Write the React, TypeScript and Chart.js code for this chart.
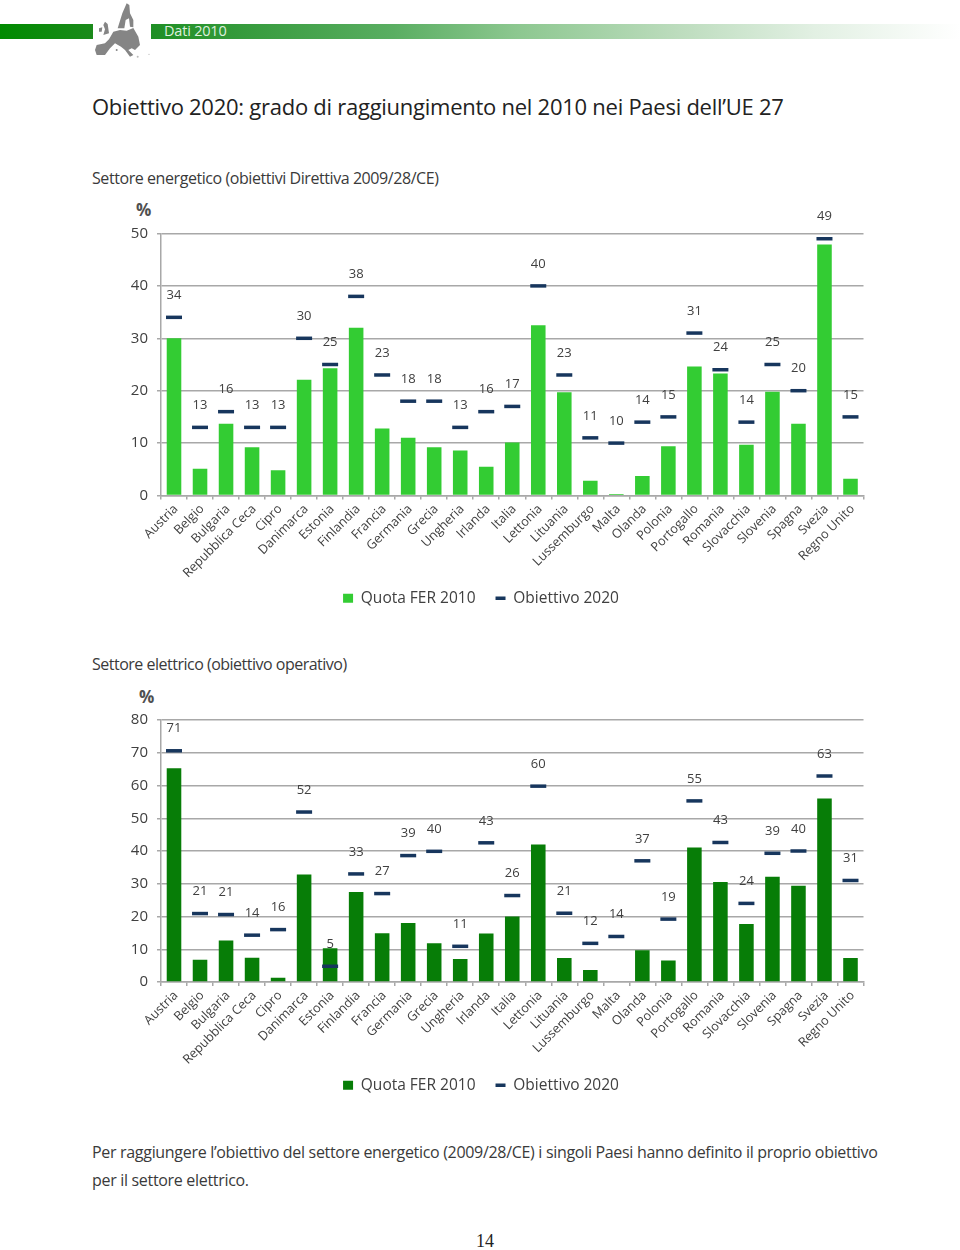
import React, { useEffect, useRef } from "react";
import { Chart, registerables } from "chart.js";

Chart.register(...registerables);

const countries = ["Austria", "Belgio", "Bulgaria", "Repubblica Ceca", "Cipro", "Danimarca", "Estonia", "Finlandia", "Francia", "Germania", "Grecia", "Ungheria", "Irlanda", "Italia", "Lettonia", "Lituania", "Lussemburgo", "Malta", "Olanda", "Polonia", "Portogallo", "Romania", "Slovacchia", "Slovenia", "Spagna", "Svezia", "Regno Unito"];

const energyShare = [30.0, 5.1, 13.7, 9.2, 4.8, 22.1, 24.3, 32.0, 12.8, 11.0, 9.2, 8.6, 5.5, 10.1, 32.5, 19.7, 2.8, 0.3, 3.7, 9.4, 24.6, 23.3, 9.7, 19.8, 13.7, 47.9, 3.2];
const energyTarget = [34, 13, 16, 13, 13, 30, 25, 38, 23, 18, 18, 13, 16, 17, 40, 23, 11, 10, 14, 15, 31, 24, 14, 25, 20, 49, 15];

const electricShare = [65.3, 6.8, 12.7, 7.4, 1.3, 32.8, 10.3, 27.5, 14.9, 18.0, 11.8, 7.0, 14.8, 20.0, 42.0, 7.3, 3.7, 0, 9.7, 6.6, 41.1, 30.5, 17.7, 32.1, 29.4, 56.0, 7.3];
const electricTarget = [70.6, 20.9, 20.6, 14.3, 16, 51.9, 4.8, 33, 27, 38.6, 39.9, 10.9, 42.5, 26.4, 59.8, 21, 11.8, 13.9, 37, 19.2, 55.3, 42.6, 24, 39.3, 40, 62.9, 31];

const FONT = '"Open Sans", sans-serif';
const TEXT = "#404040";
const GRID = "#a8a8a8";

const targetLabels = {
  id: "targetLabels",
  afterLayout(chart: any) {
    if (chart.legend) { chart.legend.left = 2; chart.legend.right = chart.width; }
  },
  afterDatasetsDraw(chart: any) {
    const { ctx } = chart;
    const meta = chart.getDatasetMeta(1);
    const values = chart.data.datasets[1].data;
    ctx.save();
    ctx.font = `13px ${FONT}`;
    ctx.fillStyle = TEXT;
    ctx.textAlign = "center";
    ctx.textBaseline = "middle";
    meta.data.forEach((pt: any, i: number) => {
      ctx.fillText(String(Math.round(values[i])), pt.x, pt.y - 22);
    });
    ctx.restore();
  },
};

function ChartBlock({ top, height, paddingTop, axisHeight, share, target, max, color }: any) {
  const ref = useRef<HTMLCanvasElement>(null);
  useEffect(() => {
    const chart = new Chart(ref.current as HTMLCanvasElement, {
      type: "bar",
      data: {
        labels: countries,
        datasets: [
          { type: "bar", label: "Quota FER 2010", data: share, backgroundColor: color, categoryPercentage: 0.56, barPercentage: 1, order: 2, pointStyle: "rect" },
          { type: "line", label: "Obiettivo 2020", data: target, showLine: false, borderColor: "#17365d", backgroundColor: "#17365d", pointStyle: "line", pointRadius: 8, pointBorderWidth: 3.5, pointHoverRadius: 8, order: 1, clip: false },
        ],
      } as any,
      options: {
        animation: false,
        responsive: false,
        maintainAspectRatio: false,
        layout: { padding: { top: paddingTop, right: 96.5, left: 0, bottom: 0 } },
        plugins: {
          tooltip: { enabled: false },
          legend: {
            position: "bottom",
            labels: {
              usePointStyle: true,
              boxHeight: 9,
              pointStyleWidth: 10,
              padding: 20,
              color: TEXT,
              font: { family: FONT, size: 15.5 },
              sort: (a: any, b: any) => a.datasetIndex - b.datasetIndex,
            },
          },
        },
        scales: {
          x: {
            offset: true,
            afterFit(s: any) {
              s.height = axisHeight;
              s.paddingLeft = 0;
              s.paddingRight = 0;
              s._computeLabelArea = () => undefined;
            },
            grid: { offset: true, drawOnChartArea: false, drawTicks: true, tickLength: 4, color: GRID, lineWidth: 1.5 },
            border: { color: GRID, width: 1.5 },
            ticks: { autoSkip: false, minRotation: 45, maxRotation: 45, color: TEXT, padding: 2, labelOffset: 2, font: { family: FONT, size: 12.7 } },
          },
          y: {
            min: 0,
            max,
            afterFit(s: any) { s.width = 161; },
            grid: { color: GRID, lineWidth: 1.5, tickLength: 4 },
            border: { color: GRID, width: 1.5 },
            ticks: { stepSize: 10, color: TEXT, padding: 9, font: { family: FONT, size: 15 } },
          },
        },
      } as any,
      plugins: [targetLabels],
    });
    return () => chart.destroy();
  }, []);
  return <canvas ref={ref} width={960} height={height} style={{ position: "absolute", left: 0, top, width: 960, height }} />;
}

const text = (left: number, top: number, size: number, extra: any = {}) => ({
  position: "absolute" as const, left, top, fontSize: size, lineHeight: "24px", fontFamily: FONT, color: "#3a3a3a", whiteSpace: "nowrap" as const, ...extra,
});

export default function App() {
  return (
    <div style={{ position: "absolute", left: 0, top: 0, width: 960, height: 1250, background: "#fff", overflow: "hidden" }}>
      <div style={{ position: "absolute", left: 0, top: 24, width: 93, height: 15, background: "linear-gradient(90deg,#008a00,#1b8a1b)" }} />
      <div style={{ position: "absolute", left: 151, top: 24, width: 809, height: 15, background: "linear-gradient(90deg,#1f8f25,#5aae62 30%,#8cc78f 45%,#bcdcbd 65%,#e2f0e3 82%,#ffffff 100%)" }} />
      <svg style={{ position: "absolute", left: 85, top: 0 }} width={80} height={64} viewBox="0 0 240 192">
        <g fill="#858585">
          <path d="M30 150 L35 135 L60 130 L72 118 L85 95 L105 90 L125 92 L145 84 L160 110 L165 135 L150 150 L140 145 L130 150 L145 165 L135 170 L120 150 L108 140 L90 130 L75 145 L60 165 L35 165 Z" />
          <path d="M98 85 L112 40 L125 10 L133 15 L135 40 L145 60 L145 82 L135 80 L132 55 L122 60 L118 85 Z" />
          <path d="M60 65 L68 72 L72 100 L55 105 L60 88 L55 75 Z" />
          <path d="M42 85 L52 82 L50 95 L42 95 Z" />
          <circle cx="95" cy="150" r="3" />
          <circle cx="158" cy="170" r="3" fill="#bbb" />
          <circle cx="192" cy="163" r="2" fill="#bbb" />
        </g>
      </svg>
      <div style={text(164, 19, 14.5, { color: "#dff0df", letterSpacing: -0.2 })}>Dati 2010</div>
      <div style={text(92, 94, 22, { color: "#222", fontWeight: 500, letterSpacing: -0.26 })}>Obiettivo 2020: grado di raggiungimento nel 2010 nei Paesi dell’UE 27</div>
      <div style={text(92, 166, 16, { letterSpacing: -0.43 })}>Settore energetico (obiettivi Direttiva 2009/28/CE)</div>
      <div style={text(136, 198, 17, { fontWeight: 700, color: "#505050" })}>%</div>
      <ChartBlock top={200} height={416} paddingTop={33.5} axisHeight={75} share={energyShare} target={energyTarget} max={50} color="#33cc33" />
      <div style={text(92, 652, 16, { letterSpacing: -0.5 })}>Settore elettrico (obiettivo operativo)</div>
      <div style={text(139, 685, 17, { fontWeight: 700, color: "#505050" })}>%</div>
      <ChartBlock top={687} height={416} paddingTop={33} axisHeight={75.5} share={electricShare} target={electricTarget} max={80} color="#077d07" />
      <div style={text(92, 1140, 16, { letterSpacing: -0.31 })}>Per raggiungere l’obiettivo del settore energetico (2009/28/CE) i singoli Paesi hanno definito il proprio obiettivo</div>
      <div style={text(92, 1168, 16, { letterSpacing: -0.31 })}>per il settore elettrico.</div>
      <div style={text(476, 1229, 18, { fontFamily: '"Liberation Serif", serif', color: "#222" })}>14</div>
    </div>
  );
}
